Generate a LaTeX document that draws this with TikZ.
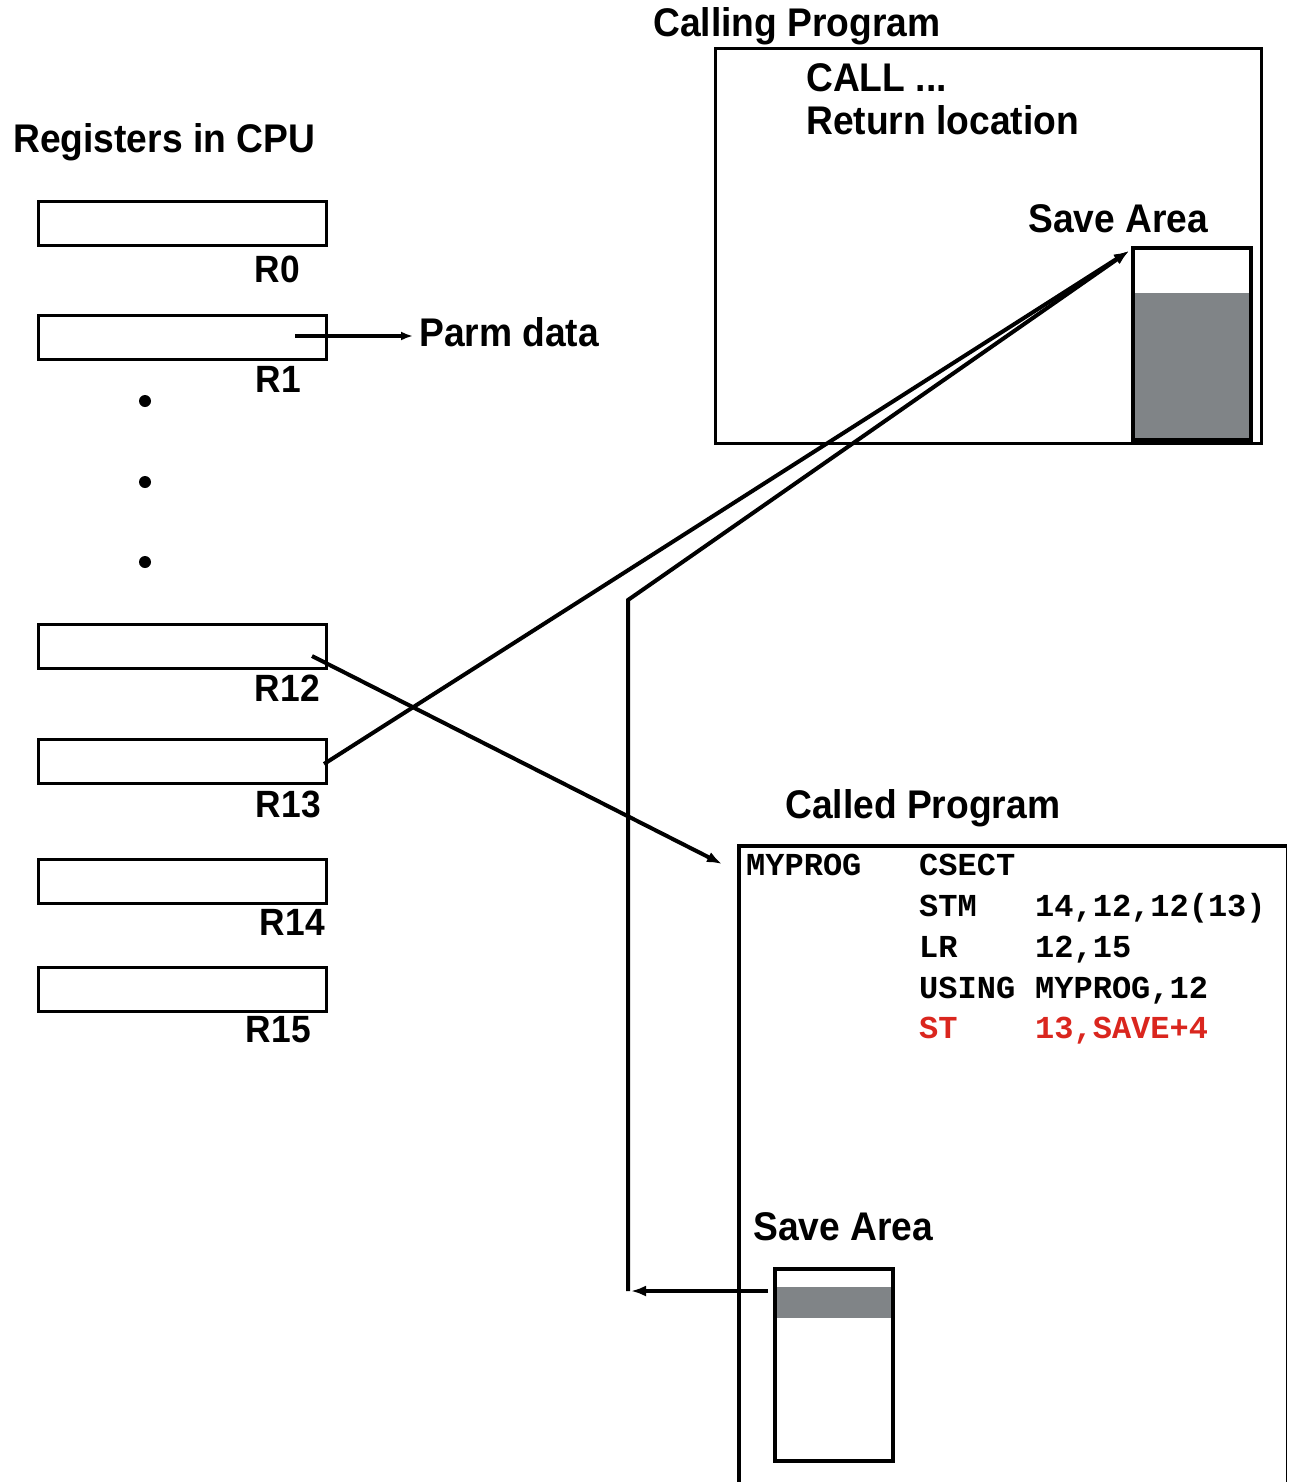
\documentclass[tikz,border=0pt]{standalone}
\usepackage{fontspec}
\setmainfont{Liberation Sans}[FakeStretch=0.93]
\newfontfamily\codefont{Liberation Mono}
\usetikzlibrary{arrows.meta}
\definecolor{savegray}{RGB}{128,132,135}
\definecolor{codered}{RGB}{218,38,30}
\tikzset{
  lbl/.style={anchor=base west, inner sep=0pt, font=\fontsize{40}{48}\selectfont\bfseries},
  rlbl/.style={anchor=base east, inner sep=0pt, font=\fontsize{38}{46}\selectfont\bfseries},
  code/.style={anchor=base west, inner sep=0pt, font=\fontsize{32}{40}\selectfont\codefont\bfseries},
  reg/.style={draw, line width=3pt, minimum width=288pt, minimum height=44pt, inner sep=0pt},
  conn/.style={line width=4pt, -{Latex[length=15pt,width=11pt]}},
  dotmark/.style={circle, fill, inner sep=0pt, minimum size=12pt},
}
\begin{document}
\begin{tikzpicture}[x=1pt,y=-1pt]
\useasboundingbox[fill=white] (0,0) rectangle (1288,1482);

% ---- registers ----
\node[lbl] (regtitle) at (13,153) {Registers in CPU};
\node[reg] (r0)  at (182,223) {};
\node[reg] (r1)  at (182,337) {};
\node[reg] (r12) at (182,646) {};
\node[reg] (r13) at (182,761) {};
\node[reg] (r14) at (182,881) {};
\node[reg] (r15) at (182,989) {};
\node[rlbl] (l0)  at (300,282)  {R0};
\node[rlbl] (l1)  at (301,392)  {R1};
\node[rlbl] (l12) at (320,701)  {R12};
\node[rlbl] (l13) at (321,817)  {R13};
\node[rlbl] (l14) at (325,935)  {R14};
\node[rlbl] (l15) at (311,1042) {R15};
\node[dotmark] (d1) at (145,401) {};
\node[dotmark] (d2) at (145,482) {};
\node[dotmark] (d3) at (145,562) {};

% ---- parameter pointer ----
\coordinate (r1ptr) at (295,336);
\node[lbl] (parm) at (419,346) {Parm data};
\coordinate (parmin) at (413,336);
\draw[line width=3.5pt, -{Latex[length=12pt,width=9pt]}] (r1ptr) -- (parmin);

% ---- calling program ----
\node[lbl] (calltitle) at (653,37) {Calling Program};
\draw[line width=3pt] (715,49) rectangle (1261,443);
\node[lbl] (callln) at (806,92) {CALL ...};
\node[lbl] (retln) at (806,135) {Return location};
\node[lbl] (savetop) at (1028,232) {Save Area};
\fill[savegray] (1133,293) rectangle (1251,440);
\draw[line width=3.5pt] (1133,248) rectangle (1251,440);
\coordinate (savein) at (1129,251);

% ---- called program ----
\node[lbl] (calledtitle) at (785,818) {Called Program};
\draw[line width=4pt] (739,1490) -- (739,846) -- (1287,846);
\draw[line width=1.5pt] (1286.5,846) -- (1286.5,1490);
\node[code] (c1a) at (746,875) {MYPROG};
\node[code] (c1b) at (919,875) {CSECT};
\node[code] (c2a) at (919,916) {STM};
\node[code] (c2b) at (1035,916) {14,12,12(13)};
\node[code] (c3a) at (919,957) {LR};
\node[code] (c3b) at (1035,957) {12,15};
\node[code] (c4a) at (919,998) {USING};
\node[code] (c4b) at (1035,998) {MYPROG,12};
\node[code, text=codered] (c5a) at (919,1038) {ST};
\node[code, text=codered] (c5b) at (1035,1038) {13,SAVE+4};
\node[lbl] (savebot) at (753,1240) {Save Area};
\fill[savegray] (775,1287) rectangle (891,1318);
\draw[line width=3.5pt] (775,1269) rectangle (893,1461);
\coordinate (calledin) at (722,864);

% ---- connectors ----
\coordinate (r12ptr) at (312,656);
\coordinate (r13ptr) at (324,764);
\coordinate (bend) at (628,600);
\coordinate (corner) at (628,1291);
\coordinate (saveout) at (768,1291);
\coordinate (backin) at (631,1291);
\draw[conn] (r12ptr) -- (calledin);
\draw[conn] (r13ptr) -- (savein);
\draw[conn] (corner) -- (bend) -- (savein);
\draw[conn] (saveout) -- (backin);
\end{tikzpicture}
\end{document}
